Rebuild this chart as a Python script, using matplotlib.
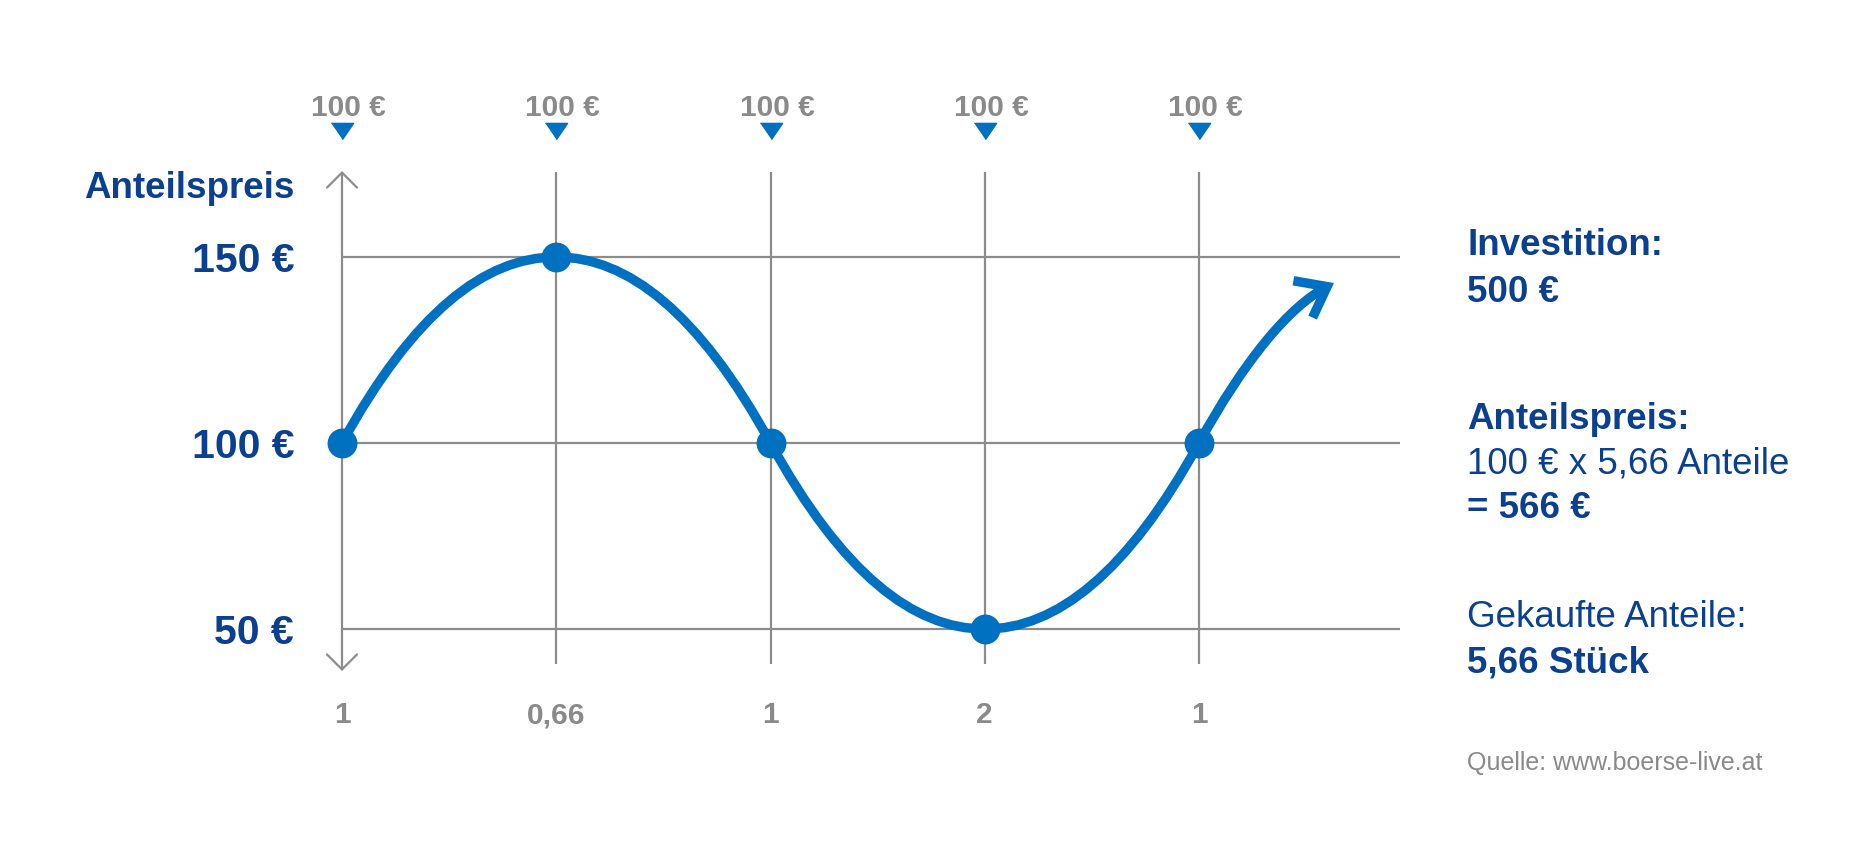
import numpy as np
import matplotlib
matplotlib.use("Agg")
import matplotlib.pyplot as plt
from matplotlib.path import Path
from matplotlib.patches import FancyArrowPatch

plt.rcParams['font.family'] = ['Liberation Sans', 'DejaVu Sans']

# data
steps = [0, 1, 2, 3, 4]
prices = [100, 150, 100, 50, 100]
arrow_end = (4.63, 143)
invest_labels = ['100 €'] * 5
shares_labels = ['1', '0,66', '1', '2', '1']
ytick_vals = [50, 100, 150]
ytick_labels = ['50 €', '100 €', '150 €']

blue = '#0070c0'
navy = '#0b3f8f'
gray = '#8a8a8a'
grid_gray = '#8c8c8c'

W, H = 1876, 858
fig = plt.figure(figsize=(W / 100, H / 100), dpi=100)
ax = fig.add_axes([0, 0, 1, 1])
ax.axis('off')

# pixel mapping: x=0 -> 342px, x=4 -> 1199px ; y=150 -> 257px, y=50 -> 629px (from top)
px = (1199 - 342) / 4
py = (629 - 257) / 100
ax.set_xlim(-342 / px, (W - 342) / px)
ax.set_ylim(50 - (H - 629) / py, 150 + 257 / py)

def ypix(p):
    return 150 + (257 - p) / py

# grid
x_right = (1400 - 342) / px
for v in ytick_vals:
    ax.plot([0, x_right], [v, v], color=grid_gray, lw=1.6, zorder=1, solid_capstyle='butt')
for s in steps[1:]:
    ax.plot([s, s], [ypix(664), ypix(172)], color=grid_gray, lw=1.6, zorder=1, solid_capstyle='butt')

# y axis with arrows
ax.annotate('', xy=(0, ypix(171)), xytext=(0, ypix(671)),
            arrowprops=dict(arrowstyle='<->,head_length=0.6,head_width=0.6',
                            color=grid_gray, lw=1.6, mutation_scale=18,
                            shrinkA=0, shrinkB=0))

# smooth curve through the points (bezier handles)
k = 2.1
pts = list(zip(steps, prices)) + [arrow_end]
slopes = [(prices[1] - prices[0]) * k]
for i in range(1, len(steps) - 1):
    slopes.append((prices[i + 1] - prices[i - 1]) / 2 * k)
slopes.append((prices[-1] - prices[-2]) * k)
slopes.append(30)

verts = [pts[0]]
codes = [Path.MOVETO]
for i in range(len(pts) - 1):
    x0, y0 = pts[i]
    x1, y1 = pts[i + 1]
    d = (x1 - x0) / 3
    verts += [(x0 + d, y0 + slopes[i] * d), (x1 - d, y1 - slopes[i + 1] * d), (x1, y1)]
    codes += [Path.CURVE4] * 3
curve = FancyArrowPatch(path=Path(verts, codes),
                        arrowstyle='->,head_length=0.85,head_width=0.65',
                        mutation_scale=23, color=blue, lw=6.8,
                        capstyle='butt', joinstyle='miter', zorder=3)
ax.add_patch(curve)

ax.plot(steps, prices, 'o', color=blue, ms=20.5, zorder=4)

# top invest labels with triangles
tri = [(-1, 0.73), (1, 0.73), (0, -0.73)]
ax.plot(steps, [ypix(131)] * 5, linestyle='none', marker=tri, ms=16, color=blue,
        clip_on=False)
for s, lab in zip(steps, invest_labels):
    ax.text(s + 0.03, ypix(116), lab, ha='center', va='baseline', fontsize=21.5,
            fontweight='bold', color=gray)

# bottom shares labels
for s, lab in zip(steps, shares_labels):
    ax.text(s, ypix(723), lab, ha='center', va='baseline', fontsize=21.5,
            fontweight='bold', color=gray)

# y labels
xl = (294 - 342) / px
for v, lab in zip(ytick_vals, ytick_labels):
    ax.text(xl, v, lab, ha='right', va='center_baseline', fontsize=29.5,
            fontweight='bold', color=navy)
ax.text(xl, ypix(185), 'Anteilspreis', ha='right', va='center_baseline', fontsize=26.5,
        fontweight='bold', color=navy)

# right-hand info block
xr = 1467 / W
info = [
    ('Investition:', 255, 'bold', navy, 26.5),
    ('500 €', 302, 'bold', navy, 26.5),
    ('Anteilspreis:', 429, 'bold', navy, 26.5),
    ('100 € x 5,66 Anteile', 473, 'normal', navy, 26.5),
    ('= 566 €', 518, 'bold', navy, 26.5),
    ('Gekaufte Anteile:', 627, 'normal', navy, 26.5),
    ('5,66 Stück', 673, 'bold', navy, 26.5),
    ('Quelle: www.boerse-live.at', 770, 'normal', gray, 18),
]
for txt, yb, wt, c, fs in info:
    fig.text(xr, 1 - yb / H, txt, ha='left', va='baseline', fontsize=fs,
             fontweight=wt, color=c)

fig.savefig('out.png', dpi=100, facecolor='white')
